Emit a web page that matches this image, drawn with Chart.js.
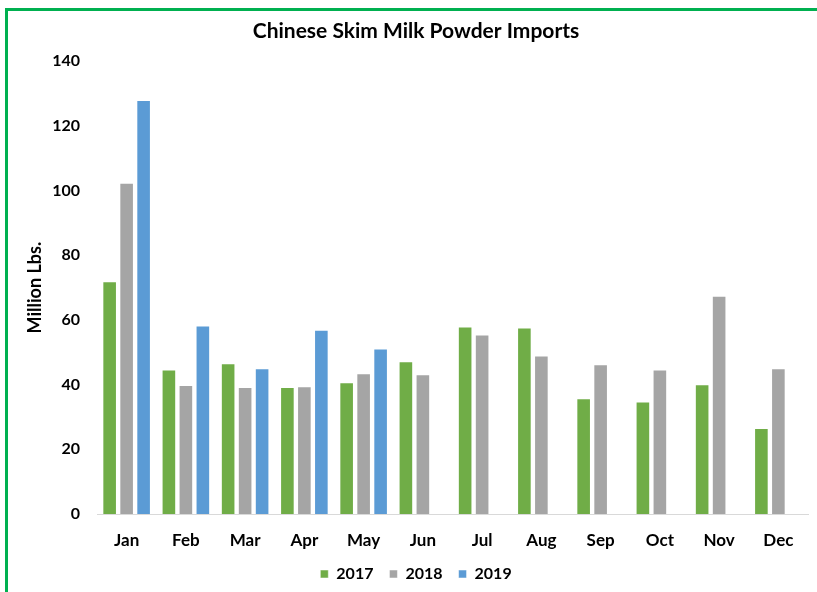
<!DOCTYPE html>
<html>
<head>
<meta charset="utf-8">
<script src="https://cdn.jsdelivr.net/npm/chart.js@4/dist/chart.umd.min.js"></script>
<style>
    html, body { margin: 0; padding: 0; background: #fff; overflow: hidden; }
    #frame {
        position: absolute; left: 5px; top: 8px;
        width: 840px; height: 620px;
        border: 3px solid #00B050;
    }
    #wrap { position: absolute; left: 0; top: 0; width: 817px; height: 592px; }
</style>
</head>
<body>
<div id="frame"></div>
<div id="wrap"><canvas id="chart" width="817" height="592"></canvas></div>
<script>
// Months along the x axis
const months = ['Jan', 'Feb', 'Mar', 'Apr', 'May', 'Jun', 'Jul', 'Aug', 'Sep', 'Oct', 'Nov', 'Dec'];

// Imports, million lbs
const imports2017 = [72, 44.7, 46.6, 39.3, 40.7, 47.2, 58, 57.7, 35.8, 34.8, 40.1, 26.6];
const imports2018 = [102.4, 39.9, 39.3, 39.5, 43.5, 43.2, 55.5, 49, 46.3, 44.7, 67.5, 45.1];
const imports2019 = [128, 58.3, 45.1, 57, 51.2, null, null, null, null, null, null, null];

const yTicks = [0, 20, 40, 60, 80, 100, 120, 140];

const fontFamily = 'Lato, "Open Sans", sans-serif';

document.addEventListener('DOMContentLoaded', () => {
    const ctx = document.getElementById('chart').getContext('2d');

    function barSet(label, data, color) {
        return {
            label: label,
            data: data,
            backgroundColor: color,
            borderColor: 'rgba(255,255,255,0.5)',
            borderWidth: 1,
            categoryPercentage: 0.86,
            barPercentage: 0.86,
        };
    }

    new Chart(ctx, {
        type: 'bar',
        data: {
            labels: months,
            datasets: [
                barSet('2017', imports2017, '#70AD47'),
                barSet('2018', imports2018, '#A5A5A5'),
                barSet('2019', imports2019, '#5B9BD5'),
            ],
        },
        options: {
            responsive: false,
            animation: false,
            layout: {
                padding: { left: 24, right: 9, top: 14, bottom: 0 },
            },
            plugins: {
                title: {
                    display: true,
                    text: 'Chinese Skim Milk Powder Imports',
                    color: '#000',
                    font: { family: fontFamily, size: 21, weight: 'bold' },
                    padding: { top: 5, bottom: 17 },
                },
                legend: {
                    position: 'bottom',
                    labels: {
                        color: '#000',
                        font: { family: fontFamily, size: 16, weight: 'bold' },
                        boxWidth: 8,
                        boxHeight: 8,
                        padding: 16,
                    },
                },
                tooltip: { enabled: false },
            },
            scales: {
                x: {
                    afterFit: (scale) => {
                        scale.height = 36;
                    },
                    grid: { display: false, drawTicks: false },
                    border: { color: '#D9D9D9', width: 1 },
                    ticks: {
                        color: '#000',
                        padding: 16,
                        font: { family: fontFamily, size: 17, weight: 'bold' },
                    },
                },
                y: {
                    min: 0,
                    max: 140,
                    afterBuildTicks: (scale) => {
                        scale.ticks = yTicks.map(v => ({ value: v }));
                    },
                    afterFit: (scale) => {
                        scale.width = 73;
                    },
                    grid: { display: false, drawTicks: false },
                    border: { display: false },
                    ticks: {
                        color: '#000',
                        padding: 17,
                        font: { family: fontFamily, size: 16, weight: 'bold' },
                    },
                    title: {
                        display: true,
                        text: 'Million Lbs.',
                        color: '#000',
                        font: { family: fontFamily, size: 18, weight: 'bold' },
                        padding: 0,
                    },
                },
            },
        },
    });
});
</script>
</body>
</html>
